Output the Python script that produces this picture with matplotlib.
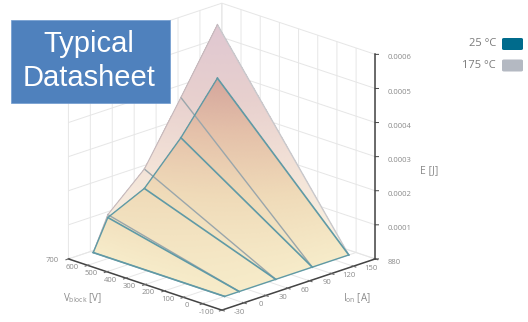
import matplotlib
matplotlib.use("Agg")
import matplotlib.pyplot as plt
import numpy as np
from matplotlib.colors import LinearSegmentedColormap
from matplotlib.patches import FancyBboxPatch, Rectangle
from matplotlib.ticker import NullFormatter
from mpl_toolkits.mplot3d import proj3d

# data
i_on = [-30, -10, 40, 90, 140]
v_block = [0, 685]
e_25 = [0.0, 0.885e-4, 1.38e-4, 2.51e-4, 3.9e-4]
e_175 = [0.0, 0.97e-4, 1.95e-4, 3.69e-4, 5.47e-4]

i_ticks = [-60, -30, 0, 30, 60, 90, 120, 150]
i_labels = ["", "-30", "0", "30", "60", "90", "120", "150"]
v_ticks = [-100, 0, 100, 200, 300, 400, 500, 600, 700]
e_ticks = [0, 0.0001, 0.0002, 0.0003, 0.0004, 0.0005, 0.0006]
e_labels = ["880", "0.0001", "0.0002", "0.0003", "0.0004", "0.0005", "0.0006"]

legend_names = ["25 °C", "175 °C"]
legend_colors = ["#006b8c", "#b4b9c2"]

plt.rcParams["font.family"] = ["Open Sans", "DejaVu Sans"]
plt.rcParams["mathtext.default"] = "regular"
plt.rcParams["grid.color"] = "#e6e6e6"
plt.rcParams["grid.linewidth"] = 0.7

txt = "#8a8a8a"
cmap = LinearSegmentedColormap.from_list("heat", ["#f6ebc9", "#efdab8", "#e4c0a9", "#d2a29a"])
cmap_pale = LinearSegmentedColormap.from_list("heat2", ["#f6ebc9", "#e8c8b0", "#cfa09c", "#bf8ea4"])


def shaded_mesh(values):
    # finer mesh only so the colour fades smoothly across each facet
    ii = np.linspace(i_on[0], i_on[-1], 171)
    vv = np.linspace(v_block[0], v_block[1], 100)
    x, y = np.meshgrid(ii, vv)
    top = np.interp(ii, i_on, values)
    z = top * (y - v_block[0]) / (v_block[1] - v_block[0])
    return x, y, z


def label_3d(x3, y3, z3, name, ha):
    # project to the flat axes coordinates, then write a plain 2d text there
    x2, y2, _ = proj3d.proj_transform(x3, y3, z3, ax.get_proj())
    ax.text2D(x2, y2, name, transform=ax.transData, fontsize=5.5, color=txt, ha=ha, va="center")


fig = plt.figure(figsize=(5.28, 3.22), dpi=100)
ax = fig.add_axes([-46.5 / 528, 0.0, 1.0, 1.0], projection="3d", proj_type="ortho", computed_zorder=False)
ax.view_init(elev=19.5, azim=-135)
ax.set_xlim(-60, 150, view_margin=0)
ax.set_ylim(-100, 700, view_margin=0)
ax.set_zlim(0, 0.0006, view_margin=0)
ax.set_box_aspect((1, 1, 1), zoom=1.133)

ax.set_xticks(i_ticks)
ax.set_yticks(v_ticks)
ax.set_zticks(e_ticks)

for axis in (ax.xaxis, ax.yaxis, ax.zaxis):
    axis.set_pane_color((1, 1, 1, 0))
    axis.pane.set_edgecolor("#e6e6e6")
    axis.line.set_color("#444444")
    axis.line.set_linewidth(1.1)
    axis.set_major_formatter(NullFormatter())
    axis.offsetText.set_visible(False)
    axis.label.set_visible(False)
ax.tick_params(axis="both", length=2, pad=0, colors="#666666")

# mplot3d keeps the z axis on the left for this view, so it is drawn by hand on the right corner
ax.zaxis.line.set_visible(False)
ax.tick_params(axis="z", color=(0, 0, 0, 0))
ax.plot([150, 150], [-100, -100], [0, 0.0006], color="#444444", lw=1.1, zorder=6)
for val in e_ticks:
    ax.plot([150, 153.5], [-100, -113], [val, val], color="#444444", lw=0.7, zorder=6)

# tick labels sit off the axes, offsets are in data units
for val, name in zip(i_ticks, i_labels):
    if name:
        label_3d(val - 22, -160, 0, name, "center")
for val in v_ticks:
    label_3d(-75, val + 25, 0, str(val), "center")
for val, name in zip(e_ticks, e_labels):
    label_3d(151, -159, val, name, "left")

x, y, z = shaded_mesh(e_175)
pale = cmap_pale(z / 0.00055)
pale[..., :3] = 0.5 * pale[..., :3] + 0.5
ax.plot_surface(x, y, z, facecolors=pale, rstride=1, cstride=1,
                linewidth=0, antialiased=False, shade=False, zorder=2)
x, y, z = shaded_mesh(e_25)
ax.plot_surface(x, y, z, facecolors=cmap(z / 0.0004), rstride=1, cstride=1,
                linewidth=0, antialiased=False, shade=False, zorder=3)

gray_line = "#9aa6ab"
teal_line = "#5f9aa6"
for k, cur in enumerate(i_on):
    col = "#c8c8cc" if k == len(i_on) - 1 else gray_line
    ax.plot([cur, cur], v_block, [0, e_175[k]], color=col, lw=1.0, zorder=4)
ax.plot(i_on, [v_block[1]] * 5, e_175, color="#c4b8bc", lw=0.8, zorder=4)
for k, cur in enumerate(i_on):
    ax.plot([cur, cur], v_block, [0, e_25[k]], color=teal_line, lw=1.2, zorder=5)
ax.plot(i_on, [v_block[1]] * 5, e_25, color=teal_line, lw=1.0, zorder=5)
ax.plot(i_on, [v_block[0]] * 5, [0] * 5, color=teal_line, lw=1.0, zorder=5)

# blue box
fig.add_artist(Rectangle((11 / 528, 1 - 103 / 322), 159 / 528, 83 / 322, transform=fig.transFigure,
                         facecolor="#4f81bd", edgecolor="#6f9ad0", lw=0.5))
fig.text(89 / 528, 1 - 61 / 322, "Typical\nDatasheet", color="white", fontsize=21, ha="center", va="center",
         family=["Liberation Sans"], linespacing=1.3)

# axis titles
fig.text(83 / 528, 1 - 298 / 322, "V$_{block}$ [V]", color=txt, fontsize=7, ha="center", va="center")
fig.text(357 / 528, 1 - 298 / 322, "I$_{on}$ [A]", color=txt, fontsize=7, ha="center", va="center")
fig.text(429 / 528, 1 - 171 / 322, "E [J]", color=txt, fontsize=7.5, ha="center", va="center")

# legend
for k, name in enumerate(legend_names):
    y0 = 1 - (44 + 21.5 * k) / 322
    fig.text(496 / 528, y0, name, color="#7a7a7a", fontsize=8, ha="right", va="center")
    fig.add_artist(FancyBboxPatch((502 / 528, y0 - 6 / 322), 21 / 528, 12 / 322, transform=fig.transFigure,
                                  boxstyle="round,pad=0,rounding_size=0.004", facecolor=legend_colors[k],
                                  edgecolor="none"))

fig.savefig("out.png", dpi=100)
